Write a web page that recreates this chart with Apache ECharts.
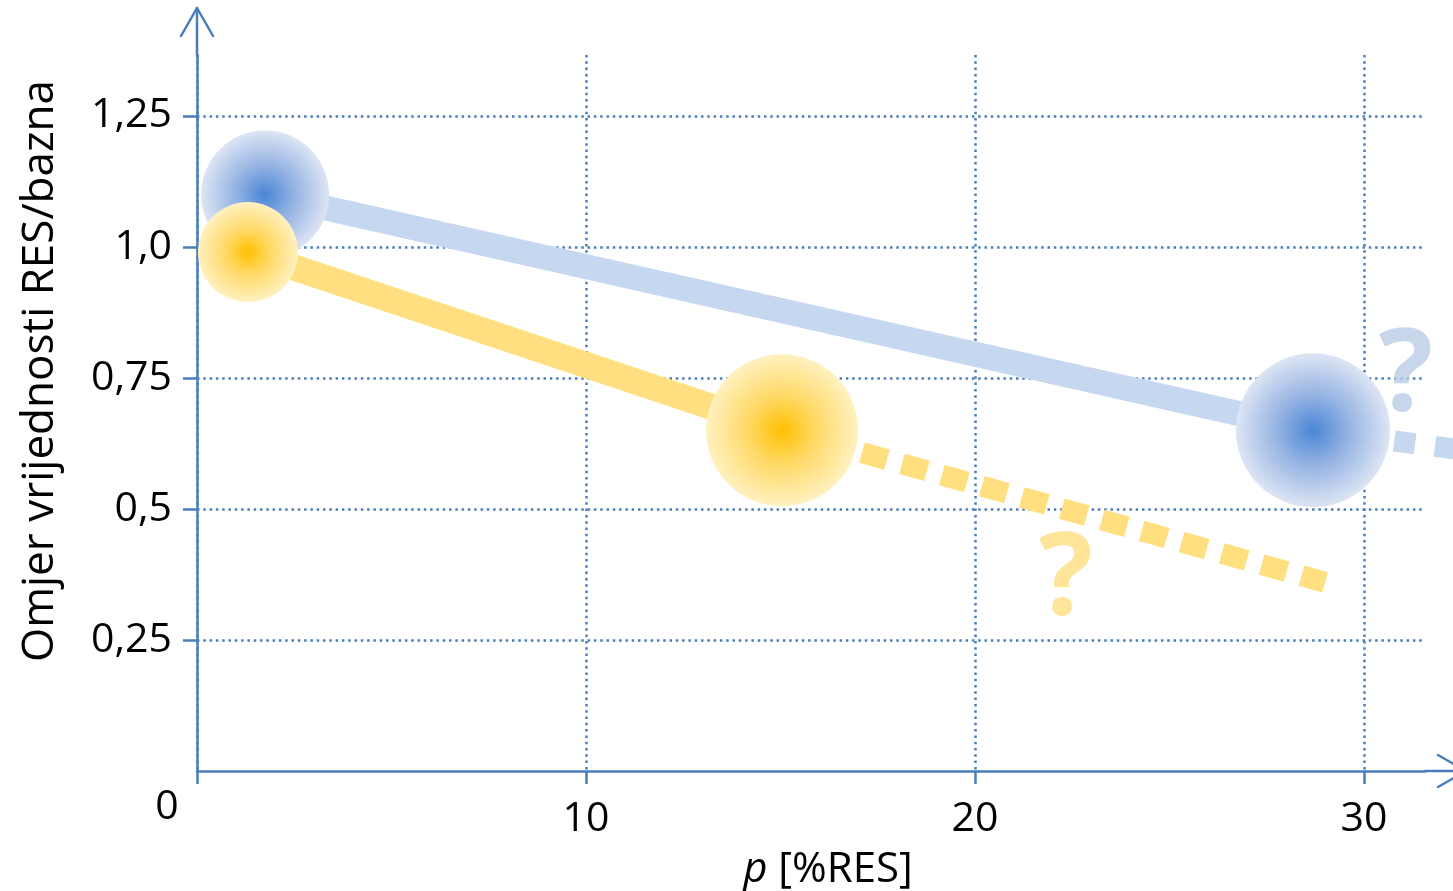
<!DOCTYPE html>
<html><head><meta charset="utf-8">
<script src="https://cdn.jsdelivr.net/npm/echarts@6/dist/echarts.min.js"></script>
<style>html,body{margin:0;padding:0;background:#fff}#c{width:1453px;height:891px}</style>
</head><body><div id="c"></div>
<script>
// ---- data ----
const xTickValues = [0, 10, 20, 30];
const xLabelValues = [10, 20, 30];
const yTickValues = [0.25, 0.5, 0.75, 1.0, 1.25];
const yTickLabels = ['0,25', '0,5', '0,75', '1,0', '1,25'];
const originLabel = '0';
const blueX = [1.75, 28.69];
const blueY = [1.10, 0.65];
const yellowX = [1.31, 15.04];
const yellowY = [0.99, 0.65];
const blueTrendX = [28.69, 33.5];
const blueTrendY = [0.65, 0.603];
const yellowTrendX = [15.04, 29.0];
const yellowTrendY = [0.65, 0.36];
const questionX = [22.34, 31.08];
const questionY = [0.362, 0.75];
const questionText = ['?', '?'];
const xTitleItalic = 'p';
const xTitleRest = ' [%RES]';
const yTitle = 'Omjer vrijednosti RES/bazna';
const X_MAX = 31.57, Y_MAX = 1.366;

// ---- layout / styles ----
const W = 1453, GL = 197, GR = 28, GT = 55, GB = 120;
const X_MAX_FULL = X_MAX * (W - GL) / (W - GL - GR); // same scale, extended to the page edge
const AXIS = '#4a7ebb';
const BLUE_LINE = '#c6d8f0';
const YELLOW_LINE = '#ffdf80';
const BLUE_Q = '#b9cce5';
const FONT = '"Open Sans", "Noto Sans", sans-serif';
const blueBubbleSize = [128, 154];
const yellowBubbleSize = [100, 152];

const zip = (a, b) => a.map((v, i) => [v, b[i]]);
const blueGrad = {type: 'radial', x: 0.5, y: 0.5, r: 0.5, colorStops: [
  {offset: 0, color: '#4a86d6'}, {offset: 0.45, color: '#93b2e2'}, {offset: 1, color: '#dde5f4'}]};
const yellowGrad = {type: 'radial', x: 0.5, y: 0.5, r: 0.5, colorStops: [
  {offset: 0, color: '#ffc000'}, {offset: 0.45, color: '#ffd966'}, {offset: 1, color: '#fff1c0'}]};

const chart = echarts.init(document.getElementById('c'), null, {renderer: 'canvas'});
const dotted = {type: [2.5, 3.8], width: 2.5, color: AXIS};

chart.setOption({
  animation: false,
  backgroundColor: '#fff',
  grid: [
    {left: GL, top: GT, right: GR, bottom: GB, containLabel: false, outerBoundsMode: 'none'},
    {left: GL, top: GT, right: 0, bottom: GB, containLabel: false, outerBoundsMode: 'none'}
  ],
  xAxis: [{
    type: 'value', min: 0, max: X_MAX, interval: 10,
    name: '{i|' + xTitleItalic + '}' + xTitleRest,
    nameLocation: 'middle', nameGap: 68,
    nameTextStyle: {fontFamily: FONT, fontSize: 42, color: '#000', lineHeight: 50, padding: [0, 0, 0, 34],
      rich: {i: {fontFamily: FONT, fontSize: 42, fontStyle: 'italic', color: '#000', lineHeight: 50}}},
    axisLine: {lineStyle: {color: AXIS, width: 2.5}},
    axisTick: {show: true, length: 13, customValues: xTickValues, lineStyle: {color: AXIS, width: 2.5}},
    axisLabel: {customValues: xLabelValues, fontFamily: FONT, fontSize: 41, color: '#000', margin: 28,
      formatter: v => String(v)},
    splitLine: {show: true, lineStyle: dotted}
  }, {
    gridIndex: 1, type: 'value', min: 0, max: X_MAX_FULL, show: false
  }],
  yAxis: [{
    type: 'value', min: 0, max: Y_MAX, interval: 0.25,
    name: yTitle, nameLocation: 'middle', nameGap: 132,
    nameTextStyle: {fontFamily: FONT, fontSize: 44, color: '#000', lineHeight: 50, padding: [0, 0, 0, 84]},
    axisLine: {lineStyle: {color: AXIS, width: 2.5}},
    axisTick: {show: true, length: 14, customValues: yTickValues, lineStyle: {color: AXIS, width: 2.5}},
    axisLabel: {customValues: yTickValues, fontFamily: FONT, fontSize: 41, color: '#000', margin: 25,
      formatter: v => { const k = yTickValues.findIndex(t => Math.abs(t - v) < 1e-6); return k >= 0 ? yTickLabels[k] : ''; }},
    splitLine: {show: true, lineStyle: dotted}
  }, {
    gridIndex: 1, type: 'value', min: 0, max: Y_MAX, show: false
  }],
  series: [
    {type: 'line', data: zip(blueX, blueY), showSymbol: false, silent: true, z: 2,
      lineStyle: {color: BLUE_LINE, width: 25, cap: 'butt'}},
    {type: 'line', xAxisIndex: 1, yAxisIndex: 1, data: zip(blueTrendX, blueTrendY), showSymbol: false, silent: true, clip: false, z: 2,
      lineStyle: {color: BLUE_LINE, width: 21, type: [21, 20], cap: 'butt'}},
    {type: 'line', data: zip(yellowX, yellowY), showSymbol: false, silent: true, z: 2,
      lineStyle: {color: YELLOW_LINE, width: 26, cap: 'butt'}},
    {type: 'line', data: zip(yellowTrendX, yellowTrendY), showSymbol: false, silent: true, clip: false, z: 2,
      lineStyle: {color: YELLOW_LINE, width: 21, type: [26, 15.5], cap: 'butt'}},
    {type: 'scatter', data: zip(blueX, blueY), silent: true, z: 3,
      symbolSize: (v, p) => blueBubbleSize[p.dataIndex], itemStyle: {color: blueGrad, opacity: 1}},
    {type: 'scatter', data: zip(yellowX, yellowY), silent: true, z: 4,
      symbolSize: (v, p) => yellowBubbleSize[p.dataIndex], itemStyle: {color: yellowGrad, opacity: 1}},
    {type: 'scatter', silent: true, z: 5, symbolSize: 2, clip: false,
      itemStyle: {color: 'rgba(255,255,255,0)'},
      data: zip(questionX, questionY).map((d, i) => ({value: d,
        label: {show: true, position: 'inside', formatter: questionText[i], fontFamily: FONT, fontWeight: 'bold',
          fontSize: 114, color: i === 0 ? YELLOW_LINE : BLUE_Q}}))}
  ]
});

// axis arrows, axis extensions and shared origin label
const o = chart.convertToPixel({gridIndex: 0}, [0, 0]);
const t = chart.convertToPixel({gridIndex: 0}, [0, Y_MAX]);
const r = chart.convertToPixel({gridIndex: 0}, [X_MAX, 0]);
const ls = {stroke: AXIS, lineWidth: 2.5, fill: null, lineCap: 'round', lineJoin: 'round'};
const tipY = t[1] - 47, tipX = r[0] + 41;
chart.setOption({graphic: [
  {type: 'polyline', shape: {points: [[o[0], t[1]], [o[0], tipY]]}, style: ls, silent: true},
  {type: 'polyline', shape: {points: [[o[0] - 16, tipY + 28], [o[0], tipY], [o[0] + 16, tipY + 28]]}, style: ls, silent: true},
  {type: 'polyline', shape: {points: [[r[0], o[1]], [tipX, o[1]]]}, style: ls, silent: true},
  {type: 'polyline', shape: {points: [[tipX - 28, o[1] - 16], [tipX, o[1]], [tipX - 28, o[1] + 16]]}, style: ls, silent: true},
  {type: 'text', x: o[0] - 30, y: o[1] + 36, silent: true,
    style: {text: originLabel, fontFamily: FONT, fontSize: 41, fill: '#000', align: 'center', verticalAlign: 'middle'}}
]});
</script>
</body></html>
